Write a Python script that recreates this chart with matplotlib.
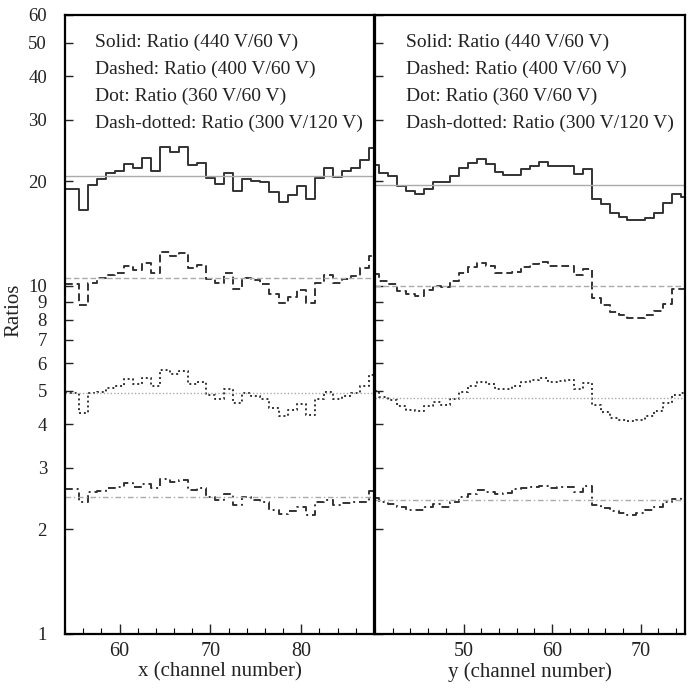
import numpy as np
import matplotlib
matplotlib.use('Agg')
import matplotlib.pyplot as plt
from matplotlib.ticker import MultipleLocator, FixedLocator, FixedFormatter

plt.rcParams['font.family'] = ['Liberation Serif', 'DejaVu Serif']

# Channel numbers (bin centres)
x_chan = list(range(54, 89))
y_chan = list(range(40, 76))

# Left panel (x channels): ratios per bin
x_solid = [19.04, 19.04, 16.53, 19.46, 20.25, 21.03, 21.40, 22.37, 21.88, 23.23, 21.40, 24.98, 24.17,
           24.98, 22.22, 22.52, 20.35, 19.59, 21.03, 18.74, 20.25, 20.03, 19.82, 18.55, 17.43, 18.21,
           19.38, 17.82, 20.48, 21.88, 20.56, 21.31, 21.88, 23.01, 24.82]
x_dashed = [10.10, 10.10, 8.81, 10.21, 10.56, 10.74, 10.91, 11.40, 11.08, 11.66, 10.91, 12.54, 12.18,
            12.46, 11.28, 11.48, 10.44, 10.17, 10.86, 9.81, 10.56, 10.39, 10.15, 9.45, 8.91, 9.31,
            9.73, 8.95, 10.17, 10.72, 10.17, 10.44, 10.67, 11.28, 12.18]
x_dot = [4.93, 4.93, 4.32, 4.91, 4.96, 5.09, 5.17, 5.41, 5.23, 5.44, 5.15, 5.72, 5.60,
         5.69, 5.24, 5.30, 4.85, 4.74, 5.06, 4.61, 4.93, 4.82, 4.74, 4.46, 4.24, 4.39,
         4.58, 4.25, 4.74, 4.96, 4.74, 4.82, 4.93, 5.15, 5.56]
x_dashdot = [2.61, 2.61, 2.39, 2.56, 2.58, 2.62, 2.64, 2.71, 2.65, 2.70, 2.63, 2.79, 2.74,
             2.77, 2.60, 2.63, 2.47, 2.43, 2.53, 2.34, 2.47, 2.42, 2.39, 2.27, 2.21, 2.26,
             2.32, 2.20, 2.40, 2.43, 2.35, 2.38, 2.39, 2.40, 2.57]
x_means = [20.7, 10.56, 4.93, 2.48]

# Right panel (y channels)
y_solid = [22.22, 21.07, 20.62, 19.38, 18.74, 18.34, 19.04, 19.82, 19.82, 20.70, 21.88, 22.52,
           23.12, 22.37, 21.17, 20.80, 20.80, 21.64, 22.12, 22.62, 22.12, 22.12, 22.12, 20.94,
           21.64, 17.82, 17.16, 16.17, 15.82, 15.47, 15.47, 15.71, 16.24, 17.28, 18.34, 18.06]
y_dashed = [10.79, 10.32, 10.10, 9.66, 9.45, 9.35, 9.73, 9.99, 9.95, 10.32, 10.91, 11.33,
            11.66, 11.40, 10.91, 10.86, 10.96, 11.33, 11.58, 11.71, 11.40, 11.40, 11.40, 10.72,
            11.21, 9.25, 8.79, 8.41, 8.23, 8.10, 8.10, 8.23, 8.46, 8.85, 9.77, 9.77]
y_dot = [4.98, 4.79, 4.71, 4.51, 4.41, 4.36, 4.51, 4.63, 4.56, 4.74, 4.96, 5.15,
         5.30, 5.24, 5.06, 5.06, 5.15, 5.29, 5.36, 5.42, 5.30, 5.32, 5.35, 5.06,
         5.27, 4.56, 4.35, 4.18, 4.13, 4.08, 4.13, 4.24, 4.36, 4.61, 4.87, 4.93]
y_dashdot = [2.46, 2.40, 2.37, 2.31, 2.27, 2.27, 2.32, 2.37, 2.32, 2.40, 2.47, 2.53,
             2.60, 2.55, 2.53, 2.54, 2.61, 2.63, 2.65, 2.67, 2.63, 2.64, 2.65, 2.55,
             2.67, 2.35, 2.30, 2.25, 2.23, 2.20, 2.23, 2.27, 2.32, 2.39, 2.44, 2.47]
y_means = [19.46, 10.0, 4.77, 2.43]

legend_lines = ['Solid: Ratio (440 V/60 V)', 'Dashed: Ratio (400 V/60 V)',
                'Dot: Ratio (360 V/60 V)', 'Dash-dotted: Ratio (300 V/120 V)']
y_ticks = [1, 2, 3, 4, 5, 6, 7, 8, 9, 10, 20, 30, 40, 50, 60]
x_ticks_left = [60, 70, 80]
x_ticks_right = [50, 60, 70]

styles = ['-', (0, (4, 2)), (0, (1, 1.5)), (0, (4, 2, 1, 2))]
line_col = '#333333'
mean_col = '#aaaaaa'
text_col = '#222222'

fig = plt.figure(figsize=(6.93, 6.91), dpi=100)
ax1 = fig.add_axes([0.0938, 0.0825, 0.4459, 0.8958])
ax2 = fig.add_axes([0.5411, 0.0825, 0.4473, 0.8958])

panels = [
    (ax1, x_chan, [x_solid, x_dashed, x_dot, x_dashdot], x_means, (54, 88), x_ticks_left,
     'x (channel number)', 0.097),
    (ax2, y_chan, [y_solid, y_dashed, y_dot, y_dashdot], y_means, (40, 75), x_ticks_right,
     'y (channel number)', 0.10),
]

for ax, chans, series, means, xlim, xt, xlabel, tx in panels:
    for vals, ls, m in zip(series, styles, means):
        ax.step(chans, vals, where='mid', color=line_col, lw=1.4, linestyle=ls)
        ax.axhline(m, color=mean_col, lw=1.0, linestyle=ls)
    ax.set_yscale('log')
    ax.set_ylim(1, 60)
    ax.set_xlim(*xlim)
    ax.yaxis.set_major_locator(FixedLocator(y_ticks))
    ax.yaxis.set_minor_locator(FixedLocator([]))
    ax.yaxis.set_major_formatter(FixedFormatter([str(t) for t in y_ticks]))
    ax.xaxis.set_major_locator(FixedLocator(xt))
    ax.xaxis.set_minor_locator(MultipleLocator(2))
    ax.tick_params(which='major', direction='in', length=7, width=1, labelsize=14.5,
                   colors=text_col)
    ax.tick_params(which='minor', direction='in', length=4, width=0.8)
    ax.tick_params(axis='y', which='major', length=6, pad=13, labelsize=13.5)
    ax.tick_params(axis='x', which='major', pad=6)
    for sp in ax.spines.values():
        sp.set_linewidth(1.6)
    ax.set_xlabel(xlabel, fontsize=15, labelpad=1, color=text_col)
    for i, txt in enumerate(legend_lines):
        ax.text(tx, 0.956 - i * 0.0435, txt, transform=ax.transAxes, fontsize=14,
                va='center', ha='left', color=text_col)

ax2.tick_params(axis='y', labelleft=False)
ax1.set_ylabel('Ratios', fontsize=15, color=text_col)
ax1.yaxis.set_label_coords(-0.135, 0.523)

fig.savefig('out.png', dpi=100)
